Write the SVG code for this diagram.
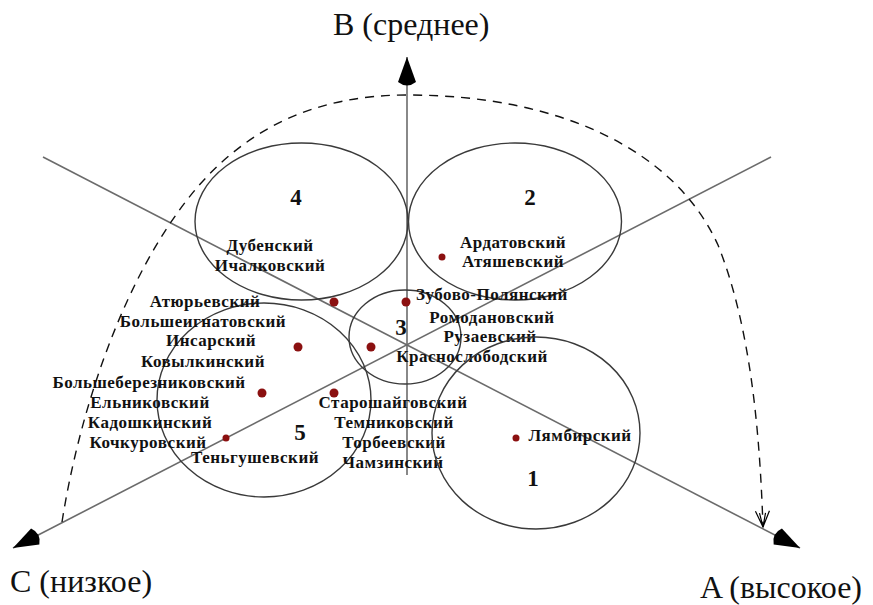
<svg xmlns="http://www.w3.org/2000/svg" width="873" height="605" viewBox="0 0 873 605">
<defs>
<style>
.axis{stroke:#6b6b6b;stroke-width:1.6;fill:none}
.ring{stroke:#3a3a3a;stroke-width:1.4;fill:none}
.curve{stroke:#111;stroke-width:1.4;fill:none;stroke-dasharray:9 7}
.big{font-family:"Liberation Serif","Times New Roman",serif;font-size:32px;fill:#111}
.num{font-family:"Liberation Serif","Times New Roman",serif;font-size:23px;font-weight:bold;fill:#111;text-anchor:middle}
.lbl{font-family:"Liberation Serif","Times New Roman",serif;font-size:17px;font-weight:bold;fill:#111;text-anchor:middle;letter-spacing:0.5px}
.dot{fill:#8b1010}
</style>
<marker id="ah" markerUnits="userSpaceOnUse" markerWidth="40" markerHeight="26" viewBox="0 0 40 26" refX="34" refY="13" orient="auto">
<path d="M34,13 L9,4 Q2,13 9,22 Z" fill="#000"/>
</marker>
<marker id="oa" markerUnits="userSpaceOnUse" markerWidth="20" markerHeight="20" viewBox="0 0 20 20" refX="18" refY="10" orient="auto">
<path d="M2,3 L18,10 L2,17 M4,7 L18,10 L4,13" fill="none" stroke="#000" stroke-width="1.2"/>
</marker>
</defs>
<rect width="873" height="605" fill="#fff"/>
<g id="connectors">
<line class="axis" x1="407" y1="475" x2="407" y2="57" marker-end="url(#ah)"/>
<line class="axis" x1="43" y1="157" x2="800" y2="548" marker-end="url(#ah)"/>
<line class="axis" x1="771" y1="157" x2="13" y2="548" marker-end="url(#ah)"/>
<path class="curve" d="M62,522 C78,420 120,280 195,190 C250,125 320,95 407,95 C560,95 675,150 718,245 C752,330 760,440 763,527" marker-end="url(#oa)"/>
</g>
<g id="axis-labels">
<text class="big" x="333" y="35">B (среднее)</text>
<text class="big" x="10" y="592">C (низкое)</text>
<text class="big" x="700" y="598">A (высокое)</text>
</g>
<g id="cluster-4">
<ellipse class="ring" cx="301.5" cy="221.5" rx="106.5" ry="78.5"/>
<text class="num" x="296" y="205">4</text>
<text class="lbl" x="270" y="251">Дубенский</text>
<text class="lbl" x="270" y="271">Ичалковский</text>
</g>
<g id="cluster-2">
<ellipse class="ring" cx="515" cy="221.5" rx="106.5" ry="78.5"/>
<text class="num" x="530" y="205">2</text>
<circle class="dot" cx="442" cy="257" r="3.5"/>
<text class="lbl" x="513" y="248">Ардатовский</text>
<text class="lbl" x="513" y="267">Атяшевский</text>
</g>
<g id="cluster-3">
<ellipse class="ring" cx="405" cy="337" rx="56" ry="47"/>
<text class="num" x="401" y="335">3</text>
<circle class="dot" cx="334" cy="302" r="4.5"/>
<circle class="dot" cx="406" cy="302" r="4.5"/>
<circle class="dot" cx="371" cy="347" r="4.5"/>
<text class="lbl" x="492" y="300">Зубово-Полянский</text>
<text class="lbl" x="492" y="323">Ромодановский</text>
<text class="lbl" x="490" y="342">Рузаевский</text>
<text class="lbl" x="472" y="362">Краснослободский</text>
</g>
<g id="cluster-5">
<ellipse class="ring" cx="264" cy="400" rx="107" ry="97"/>
<text class="num" x="300" y="440">5</text>
<circle class="dot" cx="298" cy="347" r="4.5"/>
<circle class="dot" cx="262" cy="393" r="4.5"/>
<circle class="dot" cx="334" cy="393" r="4.5"/>
<circle class="dot" cx="226" cy="438" r="3.5"/>
<text class="lbl" x="205" y="307">Атюрьевский</text>
<text class="lbl" x="203" y="327">Большеигнатовский</text>
<text class="lbl" x="211" y="346">Инсарский</text>
<text class="lbl" x="203" y="367">Ковылкинский</text>
<text class="lbl" x="149" y="388">Большеберезниковский</text>
<text class="lbl" x="150" y="408">Ельниковский</text>
<text class="lbl" x="150" y="428">Кадошкинский</text>
<text class="lbl" x="148" y="448">Кочкуровский</text>
<text class="lbl" x="255" y="463">Теньгушевский</text>
<text class="lbl" x="393" y="408">Старошайговский</text>
<text class="lbl" x="394" y="428">Темниковский</text>
<text class="lbl" x="394" y="448">Торбеевский</text>
<text class="lbl" x="393" y="468">Чамзинский</text>
</g>
<g id="cluster-1">
<ellipse class="ring" cx="536" cy="433" rx="104" ry="96"/>
<text class="num" x="533" y="486">1</text>
<circle class="dot" cx="516" cy="438" r="3.5"/>
<text class="lbl" x="580" y="441">Лямбирский</text>
</g>
</svg>
